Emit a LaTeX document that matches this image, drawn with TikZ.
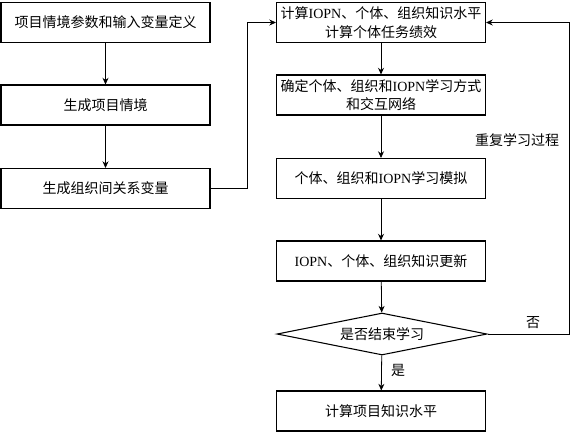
\documentclass[tikz,border=0pt]{standalone}
\usepackage{fontspec}
\setmainfont{Liberation Serif}
\newfontfamily\cjk{Noto Sans CJK SC}
\usepackage{tikz}
\usetikzlibrary{arrows.meta,positioning,shapes.geometric}
\newcommand{\en}[1]{{\rmfamily #1}}

\begin{document}
\begin{tikzpicture}[x=0.75pt,y=-0.75pt,font=\cjk\fontsize{10.5}{14}\selectfont,
  >={Stealth[length=5pt,width=4.5pt]},
  box/.style={draw,line width=0.8pt,minimum width=156.75pt,minimum height=30pt,align=center,inner sep=1pt},
  dec/.style={draw,diamond,aspect=5,line width=0.8pt,minimum width=157.5pt,minimum height=31.5pt,inner sep=0pt},
  lbl/.style={inner sep=1pt},
  arr/.style={->,line width=0.6pt}]
\useasboundingbox (0,0) rectangle (570,433);
% left column
\node[box] (par) at (105.5,22.5) {项目情境参数和输入变量定义};
\node[box] (sit) at (105.5,105) {生成项目情境};
\node[box] (rel) at (105.5,188.5) {生成组织间关系变量};
% right column
\node[box] (calc) at (381,22.5) {计算\en{IOPN}、个体、组织知识水平\\计算个体任务绩效};
\node[box] (mode) at (381,95) {确定个体、组织和\en{IOPN}学习方式\\和交互网络};
\node[box] (sim) at (381,178.5) {个体、组织和\en{IOPN}学习模拟};
\node[box] (upd) at (381,261) {\en{IOPN}、个体、组织知识更新};
\node[dec] (end) at (382,334) {是否结束学习};
\node[box] (proj) at (381,411) {计算项目知识水平};
\coordinate (back) at (569,334);
\draw[arr] (par)--(sit);\draw[arr] (sit)--(rel);
\draw[arr] (rel.east) -- ++(37,0) |- (calc.west);
\draw[arr] (calc)--(mode);\draw[arr] (mode)--(sim);\draw[arr] (sim)--(upd);
\draw[arr] (upd)--(end);\draw[arr] (end)--(proj);
\draw[arr] (end.east) -- (back) |- (calc.east);
\node[lbl] at (517,140) {重复学习过程};
\node[lbl] at (533,323) {否};
\node[lbl] at (398,370) {是};
\end{tikzpicture}
\end{document}
